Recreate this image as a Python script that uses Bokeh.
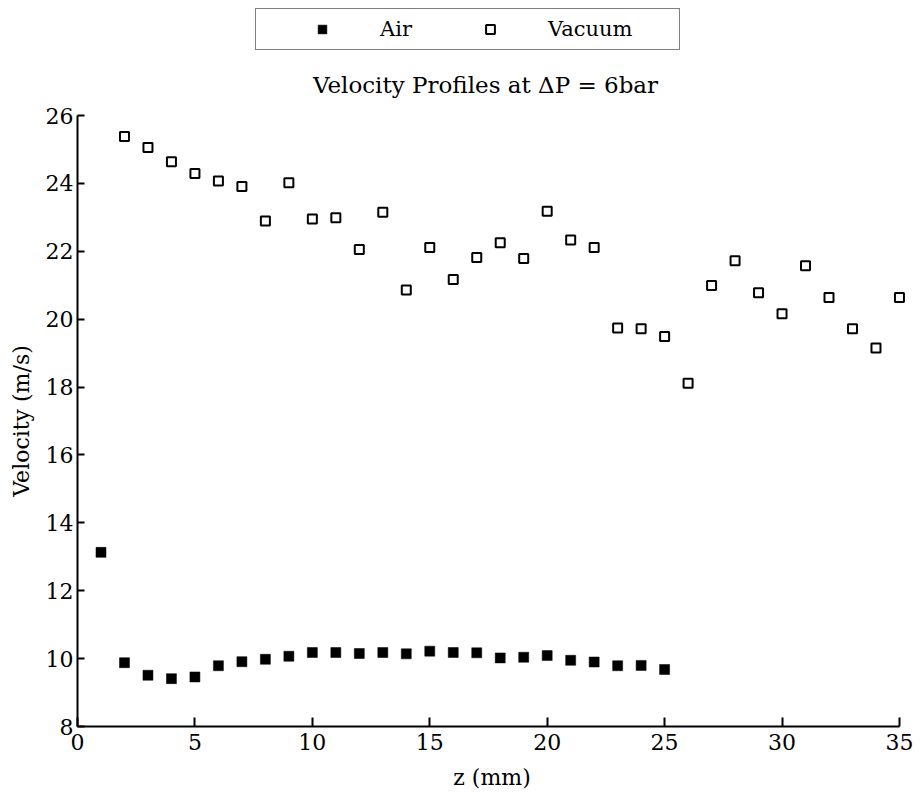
from bokeh.plotting import figure
from bokeh.models import Legend, LegendItem, FixedTicker, Range1d, Label
from bokeh.layouts import column
from bokeh.embed import file_html
from bokeh.resources import INLINE

# z positions (mm) and velocities (m/s)
z_air = [1, 2, 3, 4, 5, 6, 7, 8, 9, 10, 11, 12, 13, 14, 15, 16, 17, 18, 19, 20, 21, 22, 23, 24, 25]
v_air = [13.13, 9.88, 9.51, 9.41, 9.46, 9.79, 9.91, 9.98, 10.07, 10.18, 10.18, 10.15, 10.18,
         10.14, 10.22, 10.18, 10.17, 10.02, 10.04, 10.09, 9.95, 9.90, 9.79, 9.80, 9.68]

z_vac = [2, 3, 4, 5, 6, 7, 8, 9, 10, 11, 12, 13, 14, 15, 16, 17, 18, 19, 20, 21, 22, 23, 24,
         25, 26, 27, 28, 29, 30, 31, 32, 33, 34, 35]
v_vac = [25.38, 25.06, 24.64, 24.29, 24.07, 23.91, 22.89, 24.02, 22.95, 22.99, 22.05, 23.15,
         20.86, 22.11, 21.17, 21.82, 22.25, 21.79, 23.18, 22.33, 22.11, 19.74, 19.72, 19.49,
         18.11, 20.99, 21.72, 20.78, 20.16, 21.57, 20.64, 19.72, 19.15, 20.64]

x_ticks = [0, 5, 10, 15, 20, 25, 30, 35]
y_ticks = [8, 10, 12, 14, 16, 18, 20, 22, 24, 26]

FONT = "DejaVu Serif"
AIR_STYLE = dict(marker="square", fill_color="black", line_color="black", line_width=0.5)
VAC_STYLE = dict(marker="square", fill_color="white", line_color="black", line_width=2)

# ---------------- header: legend box + title ----------------
head = figure(width=913, height=103, output_backend="svg", toolbar_location=None,
              x_range=Range1d(0, 829), y_range=Range1d(0, 103), title=None,
              x_axis_type=None, y_axis_type=None,
              min_border_left=0, min_border_right=0, min_border_top=0, min_border_bottom=0)
head.outline_line_color = None
head.grid.visible = False
head.background_fill_color = "white"
head.border_fill_color = "white"

# hidden copies of the two series, used only as legend entries
h_air = head.scatter(z_air, v_air, size=10, visible=False, **AIR_STYLE)
h_vac = head.scatter(z_vac, v_vac, size=9, visible=False, **VAC_STYLE)

legend = Legend(items=[LegendItem(label="Air", renderers=[h_air]),
                       LegendItem(label="Vacuum", renderers=[h_vac])],
                orientation="horizontal", location=(178, 53),
                padding=8, glyph_width=116, glyph_height=22, label_standoff=0, spacing=0,
                label_width=52,
                title=" ", title_location="right", title_standoff=15,
                title_text_font=FONT, title_text_font_size="21px",
                label_text_font=FONT, label_text_font_size="21px", label_text_color="black",
                inactive_fill_alpha=0.0,
                border_line_color="black", border_line_width=1.5,
                background_fill_color="white", background_fill_alpha=1.0, margin=0)
legend.click_policy = "none"
head.add_layout(legend, "center")

title = Label(x=408, y=19, text="Velocity Profiles at \u0394P = 6bar",
              text_align="center", text_baseline="alphabetic", text_font=FONT,
              text_font_size="23px", text_color="black")
head.add_layout(title)

# ---------------- main plot ----------------
p = figure(width=913, height=689, output_backend="svg", toolbar_location=None,
           x_range=Range1d(0, 35.3), y_range=Range1d(8, 26), title=None,
           min_border_left=77, min_border_right=7, min_border_top=12, min_border_bottom=64)

p.outline_line_color = None
p.xgrid.visible = False
p.ygrid.visible = False
p.background_fill_color = "white"
p.border_fill_color = "white"

for ax in (p.xaxis[0], p.yaxis[0]):
    ax.axis_line_color = "black"
    ax.axis_line_width = 2
    ax.major_tick_line_color = "black"
    ax.major_tick_line_width = 2
    ax.major_tick_out = 0
    ax.minor_tick_line_color = None
    ax.major_label_text_font = FONT
    ax.major_label_text_font_size = "22px"
    ax.major_label_text_color = "black"
    ax.axis_label_text_font = FONT
    ax.axis_label_text_font_size = "22px"
    ax.axis_label_text_font_style = "normal"
    ax.axis_label_text_color = "black"

p.xaxis.ticker = FixedTicker(ticks=x_ticks)
p.yaxis.ticker = FixedTicker(ticks=y_ticks)
p.xaxis.bounds = (0, 35)
p.xaxis.major_tick_in = 9
p.yaxis.major_tick_in = 7
p.xaxis.major_label_standoff = 7
p.yaxis.major_label_standoff = 4
p.xaxis.axis_label = "z (mm)"
p.yaxis.axis_label = "Velocity (m/s)"
p.xaxis.axis_label_standoff = 12
p.yaxis.axis_label_standoff = 9

p.scatter(z_air, v_air, size=10, **AIR_STYLE)
p.scatter(z_vac, v_vac, size=9, **VAC_STYLE)

layout = column(head, p, spacing=0)
open("out.html", "w").write(file_html(layout, INLINE))
